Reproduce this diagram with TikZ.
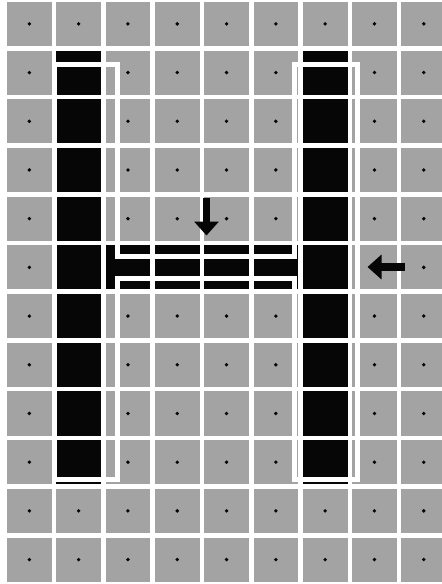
\documentclass[tikz,border=0pt]{standalone}
\usetikzlibrary{arrows.meta}
\definecolor{scanGray}{HTML}{A3A3A3}
\definecolor{scanInk}{HTML}{060606}
\tikzset{
  gridCell/.style={fill=scanGray},
  inkCell/.style={fill=scanInk},
  cellDot/.style={fill=scanInk},
  glyphOutline/.style={draw=white, line width=5pt, line join=miter},
  cueArrow/.style={-{Triangle[length=14pt 0 0, width=24pt 0 0]}, line width=7.5pt, draw=scanInk}
}

\begin{document}
\begin{tikzpicture}[x=1pt, y=-1pt]
  \useasboundingbox (0,0) rectangle (442,584);
  \fill[white] (0,0) rectangle (442,584);

  % gray cells, one dot each
  \foreach \col in {0,...,8} {
    \foreach \row in {0,...,11} {
      \pgfmathsetmacro{\cx}{4.7+49.3*\col}
      \pgfmathsetmacro{\cy}{-0.5+48.7*\row}
      \fill[gridCell] (\cx+2.3,\cy+2.3) rectangle (\cx+47,\cy+46.4);
      \fill[cellDot] (\cx+24.65,\cy+24.35) circle[radius=1.9pt];
    }
  }

  % the H in black cells
  \foreach \col in {1,6} {
    \foreach \row in {1,...,9} {
      \pgfmathsetmacro{\cx}{4.7+49.3*\col}
      \pgfmathsetmacro{\cy}{-0.5+48.7*\row}
      \fill[inkCell] (\cx+2.3,\cy+2.3) rectangle (\cx+47,\cy+46.4);
    }
  }
  \foreach \col in {2,...,5} {
    \pgfmathsetmacro{\cx}{4.7+49.3*\col}
    \pgfmathsetmacro{\cy}{-0.5+48.7*5}
    \fill[inkCell] (\cx+2.3,\cy+2.3) rectangle (\cx+47,\cy+46.4);
  }

  % ideal outline on top
  \draw[glyphOutline] (54.5,64.5) -- (117,64.5) -- (117,256.5) -- (294.5,256.5)
    -- (294.5,64.5) -- (357,64.5) -- (357,479) -- (294.5,479) -- (294.5,278)
    -- (117,278) -- (117,479) -- (54.5,479) -- cycle;

  \coordinate (dropTail) at (206.5,198);
  \coordinate (dropTip) at (206.5,235.5);
  \coordinate (pushTail) at (405,267);
  \coordinate (pushTip) at (367.5,267);
  \draw[cueArrow] (dropTail) -- (dropTip);
  \draw[cueArrow] (pushTail) -- (pushTip);
\end{tikzpicture}
\end{document}
